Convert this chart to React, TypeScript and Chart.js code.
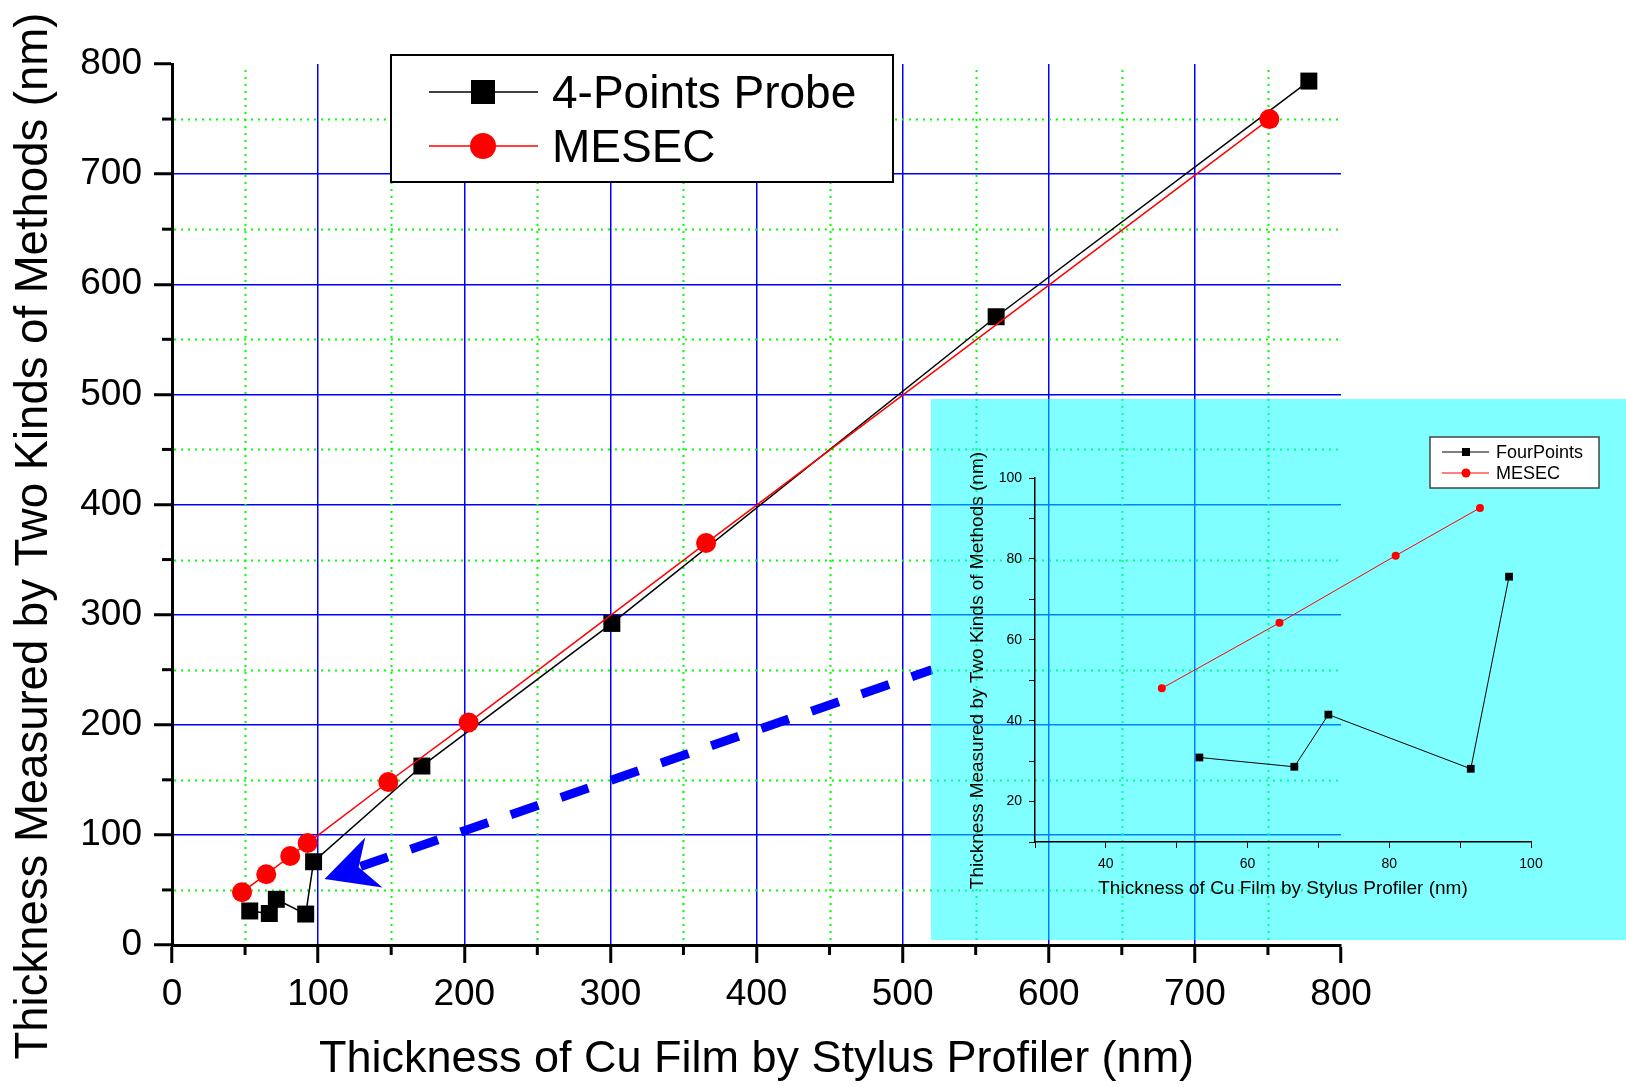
import React, { useEffect, useRef } from 'react';
import { Chart, registerables } from 'chart.js';

Chart.register(...registerables);

const FONT = "'Liberation Sans', Arial, Helvetica, sans-serif";

// ---- data (nm) ----
// thin films (shown in main plot and in the inset)
const lowStylus4P = [53.2, 66.6, 71.4, 91.5, 96.9];
const low4P = [30.9, 28.6, 41.5, 28.1, 75.6];
const lowStylusMesec = [47.9, 64.5, 80.9, 92.8];
const lowMesec = [48.0, 64.2, 80.8, 92.6];
// thicker films
const highStylus4P = [171, 301, 564, 778];
const high4P = [162.5, 292, 570.5, 784.5];
const highStylusMesec = [148, 203, 365.5, 751];
const highMesec = [148, 202, 365, 750];

const seriesNames = ['4-Points Probe', 'MESEC'];
const insetSeriesNames = ['FourPoints', 'MESEC'];
const xTitle = 'Thickness of Cu Film by Stylus Profiler (nm)';
const yTitle = 'Thickness Measured by Two Kinds of Methods (nm)';

const mainMin = 0;
const mainMax = 800;
const mainStep = 100;
const mainMinorTicks = [50, 150, 250, 350, 450, 550, 650, 750];

const insetXMin = 30;
const insetXMax = 100;
const insetYMin = 10;
const insetYMax = 100;
const insetStep = 10;
const insetLabelEvery = 20;

// annotation arrow (data coordinates of the main plot)
const arrowTail = { x: 520, y: 250 };
const arrowTip = { x: 104.4, y: 60 };

const toPoints = (xs: number[], ys: number[]) => xs.map((x, i) => ({ x, y: ys[i] }));

const BLACK = '#000000';
const RED = '#FF0000';
const BLUE = '#0000FF';
const GREEN = '#00FF00';

const mainDecor = {
  id: 'mainDecor',
  beforeDatasetsDraw(chart: any) {
    const { ctx, chartArea: ca, scales } = chart;
    const xs = scales.x;
    const ys = scales.y;
    ctx.save();
    ctx.strokeStyle = GREEN;
    ctx.lineWidth = 2;
    ctx.setLineDash([2, 5]);
    for (const v of mainMinorTicks) {
      const px = Math.round(xs.getPixelForValue(v)) + 0.5;
      ctx.beginPath();
      ctx.moveTo(px, ca.top + 6);
      ctx.lineTo(px, ca.bottom - 2);
      ctx.stroke();
      const py = Math.round(ys.getPixelForValue(v)) + 0.5;
      ctx.beginPath();
      ctx.moveTo(ca.left + 2, py);
      ctx.lineTo(ca.right, py);
      ctx.stroke();
    }
    ctx.setLineDash([]);
    ctx.strokeStyle = BLACK;
    ctx.lineWidth = 3;
    for (const v of mainMinorTicks) {
      const px = xs.getPixelForValue(v);
      ctx.beginPath();
      ctx.moveTo(px, ca.bottom);
      ctx.lineTo(px, ca.bottom + 10);
      ctx.stroke();
      const py = ys.getPixelForValue(v);
      ctx.beginPath();
      ctx.moveTo(ca.left - 10, py);
      ctx.lineTo(ca.left, py);
      ctx.stroke();
    }
    ctx.restore();
  },
  afterDraw(chart: any) {
    const { ctx, scales } = chart;
    const xs = scales.x;
    const ys = scales.y;
    ctx.save();
    // arrow
    const tip = { x: xs.getPixelForValue(arrowTip.x), y: ys.getPixelForValue(arrowTip.y) };
    const tail = { x: xs.getPixelForValue(arrowTail.x), y: ys.getPixelForValue(arrowTail.y) };
    const dx = tail.x - tip.x;
    const dy = tail.y - tip.y;
    const len = Math.hypot(dx, dy);
    const ux = dx / len;
    const uy = dy / len;
    const nx = -uy;
    const ny = ux;
    const headLen = 52;
    const notch = 36;
    ctx.fillStyle = BLUE;
    ctx.beginPath();
    ctx.moveTo(tip.x, tip.y);
    ctx.lineTo(tip.x + ux * headLen - nx * 26, tip.y + uy * headLen - ny * 26);
    ctx.lineTo(tip.x + ux * notch, tip.y + uy * notch);
    ctx.lineTo(tip.x + ux * headLen + nx * 27, tip.y + uy * headLen + ny * 27);
    ctx.closePath();
    ctx.fill();
    ctx.strokeStyle = BLUE;
    ctx.lineWidth = 9;
    ctx.lineCap = 'butt';
    ctx.setLineDash([29, 24]);
    ctx.beginPath();
    ctx.moveTo(tip.x + ux * (notch + 2), tip.y + uy * (notch + 2));
    ctx.lineTo(tail.x, tail.y);
    ctx.stroke();
    ctx.setLineDash([]);

    // legend
    const bx = 391, by = 55, bw = 502, bh = 127;
    ctx.fillStyle = '#FFFFFF';
    ctx.fillRect(bx, by, bw, bh);
    ctx.strokeStyle = BLACK;
    ctx.lineWidth = 2;
    ctx.strokeRect(bx, by, bw, bh);
    const rows = [92, 146];
    const ds = chart.data.datasets;
    rows.forEach((ry, i) => {
      const col = ds[i].borderColor;
      ctx.strokeStyle = col;
      ctx.lineWidth = 1.5;
      ctx.beginPath();
      ctx.moveTo(429, ry);
      ctx.lineTo(538, ry);
      ctx.stroke();
      ctx.fillStyle = col;
      if (i === 0) {
        ctx.fillRect(483 - 12, ry - 12, 24, 24);
      } else {
        ctx.beginPath();
        ctx.arc(483, ry, 13, 0, Math.PI * 2);
        ctx.fill();
      }
      ctx.fillStyle = BLACK;
      ctx.font = `46px ${FONT}`;
      ctx.textBaseline = 'middle';
      ctx.textAlign = 'left';
      ctx.fillText(ds[i].label, 552, ry + 3);
    });
    ctx.restore();
  },
};

const insetLegend = {
  id: 'insetLegend',
  afterDraw(chart: any) {
    const { ctx } = chart;
    ctx.save();
    const bx = 499, by = 38, bw = 169, bh = 51;
    ctx.fillStyle = '#FFFFFF';
    ctx.fillRect(bx, by, bw, bh);
    ctx.strokeStyle = '#444444';
    ctx.lineWidth = 1.5;
    ctx.strokeRect(bx, by, bw, bh);
    const rows = [53, 74];
    const ds = chart.data.datasets;
    rows.forEach((ry, i) => {
      const col = ds[i].borderColor;
      ctx.strokeStyle = col;
      ctx.lineWidth = 1;
      ctx.beginPath();
      ctx.moveTo(511, ry);
      ctx.lineTo(558, ry);
      ctx.stroke();
      ctx.fillStyle = col;
      if (i === 0) {
        ctx.fillRect(535 - 4, ry - 4, 8, 8);
      } else {
        ctx.beginPath();
        ctx.arc(535, ry, 4.5, 0, Math.PI * 2);
        ctx.fill();
      }
      ctx.fillStyle = BLACK;
      ctx.font = `18px ${FONT}`;
      ctx.textBaseline = 'middle';
      ctx.textAlign = 'left';
      ctx.fillText(ds[i].label, 565, ry + 1);
    });
    ctx.restore();
  },
};

const mainGridColor = (c: any) => {
  const v = c.tick ? c.tick.value : null;
  return v === mainMin || v === mainMax ? 'rgba(0,0,0,0)' : BLUE;
};

export default function App() {
  const mainRef = useRef<HTMLCanvasElement | null>(null);
  const insetRef = useRef<HTMLCanvasElement | null>(null);

  useEffect(() => {
    if (!mainRef.current || !insetRef.current) return;

    const main = new Chart(mainRef.current, {
      type: 'scatter',
      data: {
        datasets: [
          {
            label: seriesNames[0],
            data: toPoints([...lowStylus4P, ...highStylus4P], [...low4P, ...high4P]),
            showLine: true,
            borderColor: BLACK,
            backgroundColor: BLACK,
            borderWidth: 1.5,
            pointStyle: 'rect',
            pointRadius: 12,
            pointBorderWidth: 0,
            order: 2,
          },
          {
            label: seriesNames[1],
            data: toPoints([...lowStylusMesec, ...highStylusMesec], [...lowMesec, ...highMesec]),
            showLine: true,
            borderColor: RED,
            backgroundColor: RED,
            borderWidth: 1.5,
            pointStyle: 'circle',
            pointRadius: 10,
            pointBorderWidth: 0,
            order: 1,
          },
        ],
      },
      options: {
        responsive: false,
        animation: false,
        devicePixelRatio: 1,
        layout: { padding: { left: 0, top: 64, right: 285, bottom: 0 } },
        plugins: { legend: { display: false }, tooltip: { enabled: false } },
        scales: {
          x: {
            type: 'linear',
            position: 'bottom',
            min: mainMin,
            max: mainMax,
            ticks: {
              stepSize: mainStep,
              autoSkip: false,
              maxRotation: 0,
              color: BLACK,
              padding: 10,
              font: { family: FONT, size: 37 },
            },
            grid: {
              color: mainGridColor,
              lineWidth: 1.5,
              drawTicks: true,
              tickLength: 18,
              tickColor: BLACK,
              tickWidth: 3,
            },
            border: { display: true, color: BLACK, width: 3 },
            title: {
              display: true,
              text: xTitle,
              color: BLACK,
              font: { family: FONT, size: 45 },
              padding: { top: 0, bottom: 0 },
            },
            afterFit: (s: any) => {
              s.height = 142;
            },
          },
          y: {
            type: 'linear',
            position: 'left',
            min: mainMin,
            max: mainMax,
            ticks: {
              stepSize: mainStep,
              autoSkip: false,
              color: BLACK,
              padding: 12,
              font: { family: FONT, size: 37 },
            },
            grid: {
              color: mainGridColor,
              lineWidth: 1.5,
              drawTicks: true,
              tickLength: 18,
              tickColor: BLACK,
              tickWidth: 3,
            },
            border: { display: true, color: BLACK, width: 3 },
            title: {
              display: true,
              text: yTitle + '     ',
              color: BLACK,
              font: { family: FONT, size: 45.5 },
              padding: { top: 7, bottom: 0 },
            },
            afterFit: (s: any) => {
              s.width = 172;
            },
          },
        },
      },
      plugins: [mainDecor],
    } as any);

    const inset = new Chart(insetRef.current, {
      type: 'scatter',
      data: {
        datasets: [
          {
            label: insetSeriesNames[0],
            data: toPoints(lowStylus4P, low4P),
            showLine: true,
            borderColor: BLACK,
            backgroundColor: BLACK,
            borderWidth: 1,
            pointStyle: 'rect',
            pointRadius: 5.5,
            pointBorderWidth: 0,
          },
          {
            label: insetSeriesNames[1],
            data: toPoints(lowStylusMesec, lowMesec),
            showLine: true,
            borderColor: RED,
            backgroundColor: RED,
            borderWidth: 1,
            pointStyle: 'circle',
            pointRadius: 4,
            pointBorderWidth: 0,
          },
        ],
      },
      options: {
        responsive: false,
        animation: false,
        devicePixelRatio: 1,
        layout: { padding: { left: 0, top: 79, right: 95, bottom: 0 } },
        plugins: { legend: { display: false }, tooltip: { enabled: false } },
        scales: {
          x: {
            type: 'linear',
            position: 'bottom',
            min: insetXMin,
            max: insetXMax,
            ticks: {
              stepSize: insetStep,
              autoSkip: false,
              maxRotation: 0,
              color: BLACK,
              padding: 8,
              font: { family: FONT, size: 14 },
              callback: (v: any) => (Number(v) % insetLabelEvery === 0 ? String(v) : ''),
            },
            grid: {
              drawOnChartArea: false,
              drawTicks: true,
              tickLength: 6,
              tickColor: BLACK,
              tickWidth: 1,
            },
            border: { display: true, color: BLACK, width: 1.5 },
            title: {
              display: true,
              text: xTitle,
              color: BLACK,
              font: { family: FONT, size: 19 },
              padding: { top: 0, bottom: 39.6 },
            },
            afterFit: (s: any) => {
              s.height = 98;
            },
          },
          y: {
            type: 'linear',
            position: 'left',
            min: insetYMin,
            max: insetYMax,
            ticks: {
              stepSize: insetStep,
              autoSkip: false,
              color: BLACK,
              padding: 7,
              font: { family: FONT, size: 14 },
              callback: (v: any) => (Number(v) % insetLabelEvery === 0 ? String(v) : ''),
            },
            grid: {
              drawOnChartArea: false,
              drawTicks: true,
              tickLength: 6,
              tickColor: BLACK,
              tickWidth: 1,
            },
            border: { display: true, color: BLACK, width: 1.5 },
            title: {
              display: true,
              text: yTitle + '    ',
              color: BLACK,
              font: { family: FONT, size: 19 },
              padding: { top: 35.6, bottom: 0 },
            },
            afterFit: (s: any) => {
              s.width = 104;
            },
          },
        },
      },
      plugins: [insetLegend],
    } as any);

    return () => {
      main.destroy();
      inset.destroy();
    };
  }, []);

  return (
    <div
      style={{
        position: 'fixed',
        left: 0,
        top: 0,
        width: 1626,
        height: 1087,
        background: '#FFFFFF',
        overflow: 'hidden',
      }}
    >
      <canvas
        ref={mainRef}
        width={1626}
        height={1087}
        style={{ position: 'absolute', left: 0, top: 0, width: 1626, height: 1087 }}
      />
      <canvas
        ref={insetRef}
        width={695}
        height={541}
        style={{
          position: 'absolute',
          left: 931,
          top: 399,
          width: 695,
          height: 541,
          background: 'rgba(0,255,255,0.5)',
        }}
      />
    </div>
  );
}
